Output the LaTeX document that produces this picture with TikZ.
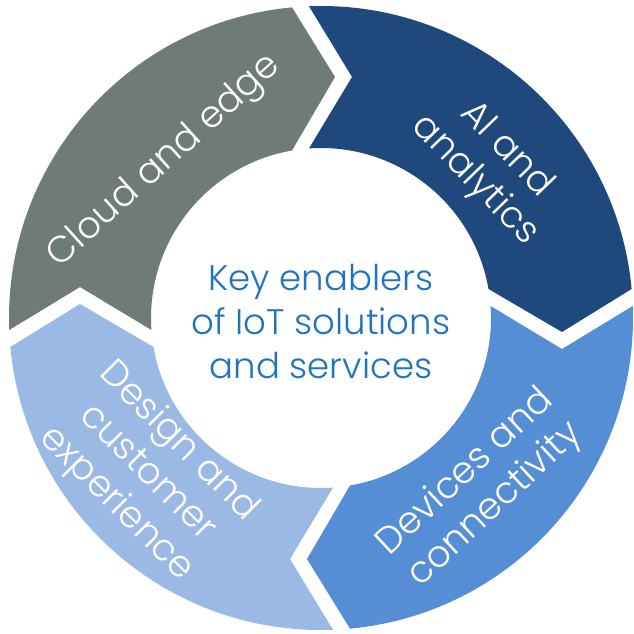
\documentclass[tikz,border=0pt]{standalone}
\usepackage{fontspec}
\setmainfont{Poppins}[UprightFont=* Light]
\usetikzlibrary{calc}
\definecolor{CloudGray}{HTML}{6F7B79}
\definecolor{AIBlue}{HTML}{1F497D}
\definecolor{DevBlue}{HTML}{558ED5}
\definecolor{DesignBlue}{HTML}{9AB9E4}
\definecolor{KeyBlue}{HTML}{1F74C2}
% ring sizes, px
\def\Rout{312}
\def\Rin{170}
\def\Rmid{241}
\def\EndBase{29}
\def\EndTip{14}
\def\StartBase{12}
\def\StartNotch{31}
\providecommand{\Segment}[3]{
  % #1 start gap angle, #2 end gap angle, #3 fill
  \pgfmathsetmacro{\aso}{#1+asin(\StartBase/\Rout)}
  \pgfmathsetmacro{\asi}{#1+asin(\StartBase/\Rin)}
  \pgfmathsetmacro{\aeo}{#2+asin(\EndBase/\Rout)}
  \pgfmathsetmacro{\aei}{#2+asin(\EndBase/\Rin)}
  \fill[#3] (\aso:\Rout) arc[start angle=\aso, end angle=\aeo, radius=\Rout]
    -- ($ (#2:\Rmid)+(#2-90:\EndTip) $) -- (\aei:\Rin)
    arc[start angle=\aei, end angle=\asi, radius=\Rin]
    -- ($ (#1:\Rmid)+(#1-90:\StartNotch) $) -- cycle;
}
\tikzset{
  seglabel/.style={text=white, align=center, inner sep=0pt,
    font=\fontsize{37}{44}\selectfont},
  keylabel/.style={text=KeyBlue, align=center, inner sep=0pt,
    font=\fontsize{35.5}{44}\selectfont}
}
\begin{document}
\begin{tikzpicture}[x=1pt, y=1pt]
  \useasboundingbox (-321,-315) rectangle (313,318);
  \fill[white] (-321,-315) rectangle (313,318);

  \Segment{180}{90}{CloudGray}
  \Segment{90}{0}{AIBlue}
  \Segment{0}{-90}{DevBlue}
  \Segment{-90}{-180}{DesignBlue}

  \node[seglabel, rotate=42] (cloud) at (135:221) {Cloud and edge};
  \node[seglabel, rotate=-46] (ai) at (42:228) {AI and\\analytics};
  \node[seglabel, rotate=43] (devices) at (-47:234) {Devices and\\connectivity};
  \node[seglabel, rotate=-45] (design) at (221.7:233) {Design and\\customer\\experience};

  \node[keylabel] (key) at (0,-4) {Key enablers\\of IoT solutions\\and services};
\end{tikzpicture}
\end{document}
